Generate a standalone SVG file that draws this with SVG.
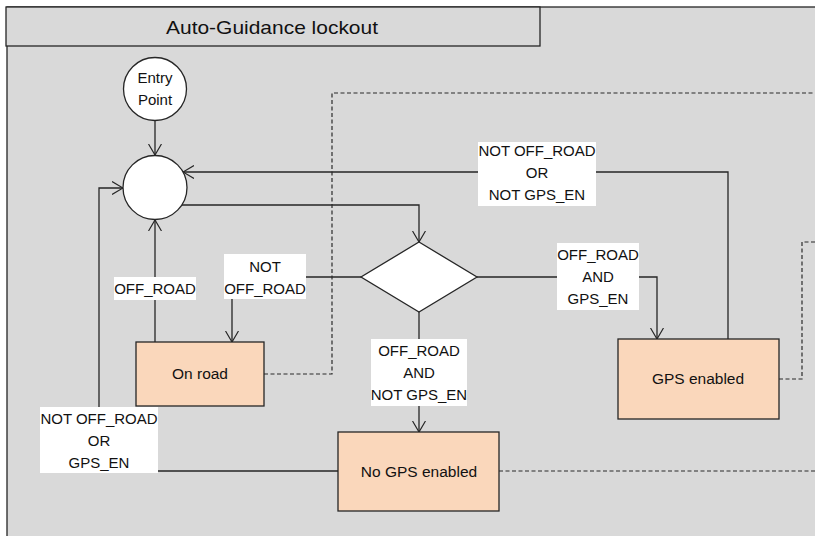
<svg xmlns="http://www.w3.org/2000/svg" width="815" height="536" viewBox="0 0 815 536">
  <defs>
    <marker id="arr" markerUnits="userSpaceOnUse" viewBox="0 0 12 14" markerWidth="12" markerHeight="14" refX="11" refY="7" orient="auto">
      <path d="M0,0.5 L11,7 L0,13.5" fill="none" stroke="#262626" stroke-width="1.2"/>
    </marker>
  </defs>
  <style>
    text { font-family: "Liberation Sans", Arial, sans-serif; font-size: 15px; fill: #111; text-anchor: middle; }
    .title { font-size: 19px; }
    .node rect { fill: #fad7bb; stroke: #262626; stroke-width: 1.3; }
    .node text { font-size: 15.5px; }
    .circ { fill: #ffffff; stroke: #262626; stroke-width: 1.3; }
    .line { fill: none; stroke: #262626; stroke-width: 1.3; }
    .arrow { marker-end: url(#arr); }
    .dash { fill: none; stroke: #2a2a2a; stroke-width: 1.2; stroke-dasharray: 4 2.5; }
    .lbl { fill: #ffffff; stroke: none; }
  </style>

  <!-- background frame -->
  <rect x="0" y="0" width="815" height="536" fill="#ffffff"/>
  <rect x="7" y="7" width="820" height="540" fill="#d9d9d9" stroke="#262626" stroke-width="1.3"/>

  <g id="title">
    <rect x="6" y="7" width="534" height="39" fill="#d9d9d9" stroke="#262626" stroke-width="1.3"/>
    <text class="title" x="272" y="34" textLength="212" lengthAdjust="spacingAndGlyphs">Auto-Guidance lockout</text>
  </g>

  <!-- connectors -->
  <g id="connectors">
    <path class="line arrow" d="M155,121 L155,155"/>
    <path class="line arrow" d="M182,205 L419,205 L419,242"/>
    <path class="line arrow" d="M728,339 L728,172 L183,172"/>
    <path class="line arrow" d="M338,471 L99,471 L99,188 L123,188"/>
    <path class="line arrow" d="M155,342 L155,220"/>
    <path class="line arrow" d="M361,277 L232,277 L232,342"/>
    <path class="line arrow" d="M477,277 L657,277 L657,339"/>
    <path class="line arrow" d="M419,312 L419,432"/>
    <path class="dash" d="M264,374 L332,374 L332,93 L820,93"/>
    <path class="dash" d="M779,379 L802,379 L802,242 L820,242"/>
    <path class="dash" d="M499,471 L820,471"/>

    <g id="lbl-not-offroad-or-not-gps">
      <rect class="lbl" x="478" y="142" width="118" height="64"/>
      <text x="537" y="156">NOT OFF_ROAD</text>
      <text x="537" y="178">OR</text>
      <text x="537" y="200">NOT GPS_EN</text>
    </g>
    <g id="lbl-not-offroad">
      <rect class="lbl" x="224" y="254" width="82" height="45"/>
      <text x="265" y="272">NOT</text>
      <text x="265" y="294">OFF_ROAD</text>
    </g>
    <g id="lbl-offroad">
      <rect class="lbl" x="114" y="277" width="82" height="23"/>
      <text x="155" y="294">OFF_ROAD</text>
    </g>
    <g id="lbl-offroad-and-gps">
      <rect class="lbl" x="557" y="243" width="82" height="67"/>
      <text x="598" y="260">OFF_ROAD</text>
      <text x="598" y="282">AND</text>
      <text x="598" y="304">GPS_EN</text>
    </g>
    <g id="lbl-offroad-and-not-gps">
      <rect class="lbl" x="371" y="339" width="96" height="67"/>
      <text x="419" y="356">OFF_ROAD</text>
      <text x="419" y="378">AND</text>
      <text x="419" y="400">NOT GPS_EN</text>
    </g>
    <g id="lbl-not-offroad-or-gps">
      <rect class="lbl" x="40" y="407" width="118" height="66"/>
      <text x="99" y="424">NOT OFF_ROAD</text>
      <text x="99" y="446">OR</text>
      <text x="99" y="468">GPS_EN</text>
    </g>
  </g>

  <g id="entry-point">
    <circle class="circ" cx="155" cy="89" r="31.5"/>
    <text x="155" y="83">Entry</text>
    <text x="155" y="105">Point</text>
  </g>

  <g id="junction">
    <circle class="circ" cx="155" cy="187.5" r="32"/>
  </g>

  <g id="decision">
    <polygon points="419,242 477,277 419,312 361,277" fill="#ffffff" stroke="#262626" stroke-width="1.3"/>
  </g>

  <g id="on-road" class="node">
    <rect x="136" y="342" width="128" height="64"/>
    <text x="200" y="379">On road</text>
  </g>

  <g id="gps-enabled" class="node">
    <rect x="618" y="339" width="161" height="80"/>
    <text x="698" y="384">GPS enabled</text>
  </g>

  <g id="no-gps-enabled" class="node">
    <rect x="338" y="432" width="161" height="79"/>
    <text x="419" y="477">No GPS enabled</text>
  </g>
</svg>
